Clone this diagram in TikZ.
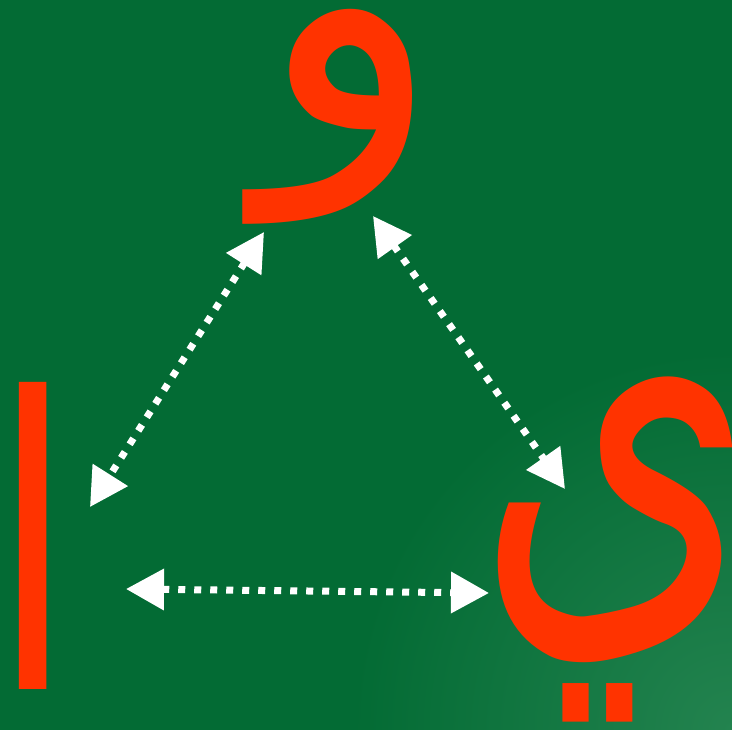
\documentclass[tikz,border=0pt]{standalone}
\usepackage{graphicx}
\usepackage{fontspec}
\newfontfamily\arabicfont[Script=Arabic]{DejaVu Sans}
\TeXXeTstate=1
\usetikzlibrary{arrows.meta}
\definecolor{bg}{HTML}{036B34}
\definecolor{bglight}{HTML}{23834F}
\definecolor{letter}{HTML}{FF3300}
\tikzset{
  letternode/.style={inner sep=0pt, outer sep=0pt, text=letter, font=\arabicfont},
  link/.style={white, line width=0.7mm, line cap=butt, dash pattern=on 0.7mm off 0.9mm,
    {Triangle[length=3.8mm,width=4mm]}-{Triangle[length=3.8mm,width=4mm]}},
}
\begin{document}
\begin{tikzpicture}[x=0.1mm,y=-0.1mm]
\useasboundingbox (0,0) rectangle (732,730);
\clip (0,0) rectangle (732,730);
\fill[bg] (0,0) rectangle (732,730);
\shade[inner color=bglight, outer color=bg] (732,730) circle (380);
\node[letternode] (waw) at (350,117) {\resizebox*{18.3mm}{21.5mm}{\beginR و\endR}};
\node[letternode] (alef) at (33,536) {\resizebox*{8.5mm}{30.7mm}{\beginR ا\endR}};
\node[letternode] (yeh) at (616,550) {\resizebox*{28mm}{34.5mm}{\beginR ي\endR}};
\coordinate (t1) at (264,232);
\coordinate (t2) at (90,507);
\coordinate (t3) at (373,216);
\coordinate (t4) at (565,489);
\coordinate (t5) at (126,589);
\coordinate (t6) at (489,593);
\draw[link] (t1) -- (t2);
\draw[link] (t3) -- (t4);
\draw[link] (t5) -- (t6);
\end{tikzpicture}
\end{document}
